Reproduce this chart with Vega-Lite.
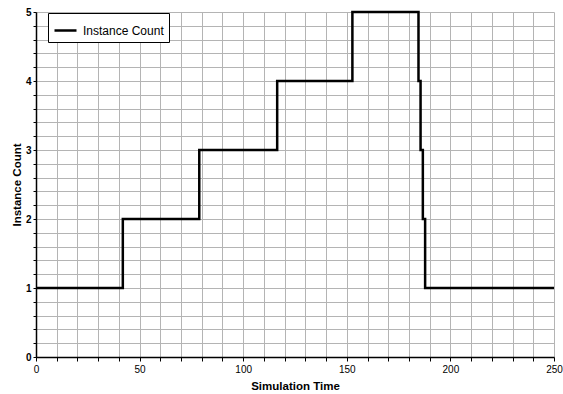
{
  "$schema": "https://vega.github.io/schema/vega-lite/v6.json",
  "width": 518,
  "height": 345,
  "autosize": {"type": "none"},
  "padding": {"left": 36, "top": 12, "right": 9, "bottom": 37},
  "background": "white",
  "config": {
    "font": "Liberation Sans",
    "view": {"stroke": null}
  },
  "data": {
    "values": [
      {"time": 0, "count": 1, "series": "Instance Count"},
      {"time": 41.9, "count": 2, "series": "Instance Count"},
      {"time": 78.8, "count": 3, "series": "Instance Count"},
      {"time": 116.4, "count": 4, "series": "Instance Count"},
      {"time": 152.7, "count": 5, "series": "Instance Count"},
      {"time": 184.6, "count": 4, "series": "Instance Count"},
      {"time": 185.6, "count": 3, "series": "Instance Count"},
      {"time": 186.7, "count": 2, "series": "Instance Count"},
      {"time": 187.8, "count": 1, "series": "Instance Count"},
      {"time": 250, "count": 1, "series": "Instance Count"}
    ]
  },
  "mark": {"type": "line", "interpolate": "step-after", "strokeWidth": 2.5},
  "encoding": {
    "x": {
      "field": "time",
      "type": "quantitative",
      "scale": {"domain": [0, 250], "nice": false, "zero": false},
      "axis": {
        "title": "Simulation Time",
        "titleFontSize": 11.5,
        "titleFontWeight": "bold",
        "titleColor": "black",
        "titlePadding": 6,
        "values": [0, 10, 20, 30, 40, 50, 60, 70, 80, 90, 100, 110, 120, 130, 140, 150, 160, 170, 180, 190, 200, 210, 220, 230, 240, 250],
        "labelExpr": "datum.value % 50 === 0 ? datum.label : ''",
        "labelFontSize": 10,
        "labelColor": "black",
        "labelPadding": 3,
        "labelFlush": false,
        "tickSize": 4,
        "tickColor": "black",
        "domainColor": "black",
        "domainWidth": 1.5,
        "grid": true,
        "gridColor": "#b4b4b4",
        "gridWidth": 1
      }
    },
    "y": {
      "field": "count",
      "type": "quantitative",
      "scale": {"domain": [0, 5], "nice": false},
      "axis": {
        "title": "Instance Count",
        "titleFontSize": 11.5,
        "titleFontWeight": "bold",
        "titleColor": "black",
        "titlePadding": 3,
        "values": [0, 0.2, 0.4, 0.6, 0.8, 1, 1.2, 1.4, 1.6, 1.8, 2, 2.2, 2.4, 2.6, 2.8, 3, 3.2, 3.4, 3.6, 3.8, 4, 4.2, 4.4, 4.6, 4.8, 5],
        "labelExpr": "abs(datum.value - round(datum.value)) < 0.001 ? format(datum.value, 'd') : ''",
        "labelFontSize": 10,
        "labelFontWeight": "bold",
        "labelColor": "black",
        "labelPadding": 2,
        "labelFlush": false,
        "tickSize": 3,
        "tickColor": "black",
        "domainColor": "black",
        "domainWidth": 1.5,
        "grid": true,
        "gridColor": "#b4b4b4",
        "gridWidth": 1
      }
    },
    "color": {
      "field": "series",
      "type": "nominal",
      "scale": {"range": ["black"]},
      "legend": {
        "title": null,
        "orient": "none",
        "legendX": 12,
        "legendY": 1,
        "direction": "vertical",
        "fillColor": "white",
        "strokeColor": "black",
        "padding": 5,
        "symbolType": "stroke",
        "symbolSize": 484,
        "symbolStrokeWidth": 2.5,
        "labelFontSize": 12,
        "labelColor": "black",
        "labelOffset": 5
      }
    }
  }
}
